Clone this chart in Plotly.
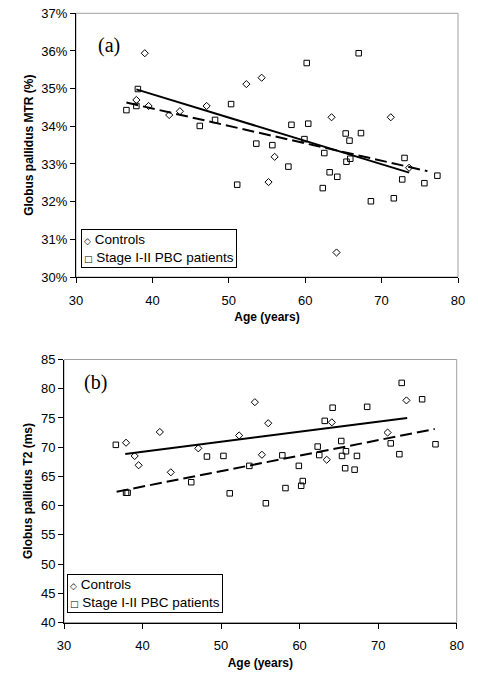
import plotly.graph_objects as go

# ---------------- data ----------------
controls_age = [37.9, 39.0, 39.5, 42.2, 43.6, 47.1, 52.3, 54.3, 55.2, 56.0, 63.45, 64.1, 71.2, 73.6]
controls_mtr = [34.70, 35.94, 34.54, 34.30, 34.40, 34.54, 35.12, 35.29, 32.52, 33.19, 34.24, 30.65, 34.24, 32.90]
controls_t2 = [70.76, 68.49, 66.9, 72.6, 65.7, 69.8, 72.0, 77.7, 68.7, 74.1, 67.85, 74.25, 72.5, 78.0]

patients_age = [36.6, 37.9, 38.1, 46.2, 48.2, 50.3, 51.1, 53.6, 55.7, 57.8, 58.2, 59.9, 60.2, 60.4, 62.3,
                62.5, 63.2, 64.2, 65.3, 65.4, 65.8, 65.9, 67.0, 67.3, 68.6, 71.6, 72.7, 73.0, 75.6, 77.3]
patients_mtr = [34.43, 34.54, 34.99, 34.01, 34.17, 34.59, 32.45, 33.54, 33.50, 32.93, 34.04, 33.66, 35.68, 34.07, 32.36,
                33.29, 32.78, 32.66, 33.81, 33.06, 33.62, 33.14, 35.94, 33.82, 32.01, 32.09, 32.59, 33.16, 32.49, 32.69]
patients_t2 = [70.4, 62.2, 62.2, 64.0, 68.4, 68.5, 62.1, 66.8, 60.4, 68.6, 63.0, 66.8, 63.4, 64.2, 70.1,
               68.65, 74.5, 76.75, 71.05, 68.5, 66.4, 69.3, 66.15, 68.5, 76.9, 70.65, 68.8, 81.0, 78.2, 70.5]

# trendline end points
trend_mtr_controls_age = [37.9, 73.6]
trend_mtr_controls_val = [34.98, 32.77]
trend_mtr_patients_age = [36.6, 76.0]
trend_mtr_patients_val = [34.63, 32.81]
trend_t2_controls_age = [37.8, 73.7]
trend_t2_controls_val = [68.83, 75.0]
trend_t2_patients_age = [36.7, 77.2]
trend_t2_patients_val = [62.38, 73.1]

x_ticks = [30, 40, 50, 60, 70, 80]
mtr_ticks = [30, 31, 32, 33, 34, 35, 36, 37]
mtr_tick_labels = ["30%", "31%", "32%", "33%", "34%", "35%", "36%", "37%"]
t2_ticks = [40, 45, 50, 55, 60, 65, 70, 75, 80, 85]

series_names = ["Controls", "Stage I-II PBC patients"]

# ---------------- figure ----------------
W, H = 478, 675
fig = go.Figure()

def px_dom(a, b, total):
    return [a / total, b / total]

def add_panel(xa, ya, c_vals, p_vals, tc_age, tc_val, tp_age, tp_val):
    fig.add_trace(go.Scatter(x=controls_age, y=c_vals, mode="markers", name=series_names[0],
                             xaxis=xa, yaxis=ya, showlegend=False,
                             marker=dict(symbol="diamond-open", size=5.5, color="black",
                                         line=dict(width=1, color="black"))))
    fig.add_trace(go.Scatter(x=patients_age, y=p_vals, mode="markers", name=series_names[1],
                             xaxis=xa, yaxis=ya, showlegend=False,
                             marker=dict(symbol="square-open", size=5.5, color="black",
                                         line=dict(width=1, color="black"))))
    fig.add_trace(go.Scatter(x=tc_age, y=tc_val, mode="lines", xaxis=xa, yaxis=ya, showlegend=False,
                             line=dict(color="black", width=2), hoverinfo="skip"))
    fig.add_trace(go.Scatter(x=tp_age, y=tp_val, mode="lines", xaxis=xa, yaxis=ya, showlegend=False,
                             line=dict(color="black", width=2, dash="12px,5px"), hoverinfo="skip"))

add_panel("x", "y", controls_mtr, patients_mtr,
          trend_mtr_controls_age, trend_mtr_controls_val, trend_mtr_patients_age, trend_mtr_patients_val)
add_panel("x2", "y2", controls_t2, patients_t2,
          trend_t2_controls_age, trend_t2_controls_val, trend_t2_patients_age, trend_t2_patients_val)

tickfont = dict(family="Liberation Sans, Arial", size=13, color="black")
titlefont = dict(family="Liberation Sans, Arial", size=12, color="black", weight="bold")

common_x = dict(range=[30, 80], tickvals=x_ticks, showline=True, linecolor="black", linewidth=1,
                ticks="outside", ticklen=5, tickcolor="black", tickfont=tickfont, showgrid=False,
                zeroline=False, ticklabelstandoff=6, automargin=False,
                title=dict(text="Age (years)", font=titlefont, standoff=6))

common_y = dict(showline=True, linecolor="black", linewidth=1, ticks="outside", ticklen=5,
                tickcolor="black", tickfont=tickfont, showgrid=False, zeroline=False, automargin=False)

fig.update_layout(
    width=W, height=H, margin=dict(l=0, r=0, t=0, b=0, autoexpand=False),
    paper_bgcolor="white", plot_bgcolor="white",
    xaxis=dict(domain=px_dom(76, 458, W), anchor="y", **common_x),
    yaxis=dict(domain=[1 - 277 / H, 1 - 13.3 / H], anchor="x", range=[30, 37], tickvals=mtr_ticks,
               ticktext=mtr_tick_labels,
               title=dict(text="Globus pallidus MTR (%)", font=titlefont, standoff=5), **common_y),
    xaxis2=dict(domain=px_dom(64, 456.7, W), anchor="y2", **common_x),
    yaxis2=dict(domain=[1 - 622.5 / H, 1 - 359.5 / H], anchor="x2", range=[40, 85], tickvals=t2_ticks,
                title=dict(text="Globus pallidus T2 (ms)", font=titlefont, standoff=5), **common_y),
)

# plot-area borders (grey, Excel style)
for xr, yr in (("x", "y"), ("x2", "y2")):
    fig.add_shape(type="rect", xref=xr + " domain", yref=yr + " domain", x0=0, x1=1, y0=0, y1=1,
                  line=dict(color="#a0a0a0", width=1), layer="below")

# panel labels
fig.add_annotation(text="(a)", xref="x domain", yref="y domain", x=0.087, y=0.878, showarrow=False,
                   xanchor="center", yanchor="middle",
                   font=dict(family="Liberation Serif, Times New Roman", size=20, color="black"))
fig.add_annotation(text="(b)", xref="x2 domain", yref="y2 domain", x=0.079, y=0.911, showarrow=False,
                   xanchor="center", yanchor="middle",
                   font=dict(family="Liberation Serif, Times New Roman", size=20, color="black"))

# legends
leg_text = ("<span style='font-family:DejaVu Sans;font-size:9px'>◇</span> " + series_names[0] +
            "<br><span style='font-family:DejaVu Sans;font-size:9px'>□</span> " + series_names[1])
legfont = dict(family="Liberation Sans, Arial", size=13.5, color="black")
fig.add_annotation(text=leg_text, xref="x domain", yref="y domain", x=(80.7 - 76) / 382, y=(277 - 268.3) / 263.7,
                   xanchor="left", yanchor="bottom", align="left", showarrow=False, font=legfont,
                   bordercolor="black", borderwidth=1, borderpad=2, bgcolor="white")
fig.add_annotation(text=leg_text, xref="x2 domain", yref="y2 domain", x=(67.3 - 64) / 392.7, y=(622.5 - 613.3) / 263,
                   xanchor="left", yanchor="bottom", align="left", showarrow=False, font=legfont,
                   bordercolor="black", borderwidth=1, borderpad=2, bgcolor="white")

fig.write_html("out.html", config={"displayModeBar": False},
               post_script="document.body.style.margin='0';document.body.style.overflow='hidden';")
